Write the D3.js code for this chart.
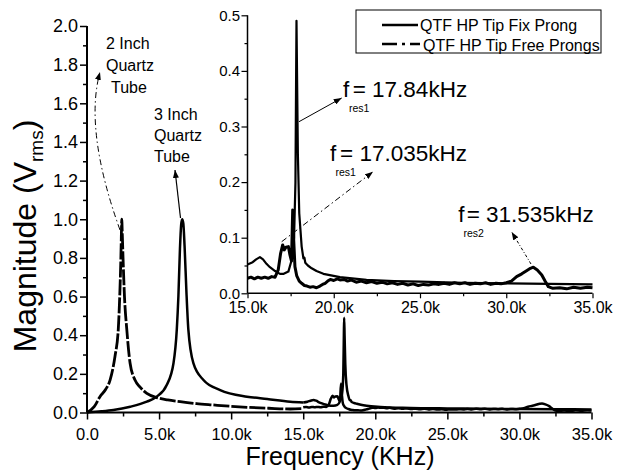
<!DOCTYPE html>
<html><head><meta charset="utf-8">
<script src="https://cdn.jsdelivr.net/npm/d3@7"></script>
<style>
body{margin:0;background:#fff}
svg{display:block}
text{font-family:"Liberation Sans",Arial,sans-serif;fill:#000}
</style>
</head><body><svg id="c" width="626" height="476"></svg>
<script>
// ---------- data (frequency in kHz, magnitude in Vrms) ----------
const tube2Freq = [0,0.5,0.9,1.3,1.6,1.94,2.17,2.27,2.34,2.38,2.41,2.45,2.5,2.6,2.76,2.99,3.33,3.7,4.15,4.84,5.6,6.46,7.6,8.77,10.0,11.1,12.6,14.1,15.0];
const tube2Mag  = [0,0.03,0.082,0.12,0.168,0.29,0.43,0.6,0.77,0.9,1.0,0.92,0.8,0.6,0.43,0.255,0.168,0.13,0.099,0.077,0.065,0.056,0.046,0.039,0.032,0.027,0.022,0.018,0.02];

const tube3Freq = [0,1.0,1.83,3.0,4.15,4.84,5.53,6.0,6.23,6.34,6.45,6.53,6.6,6.68,6.77,6.9,7.03,7.38,8.08,9.24,11.1,12.5,14.1,15.0];
const tube3Mag  = [0,0.006,0.013,0.03,0.056,0.082,0.142,0.255,0.43,0.6,0.85,0.97,1.0,0.98,0.86,0.62,0.43,0.255,0.168,0.116,0.082,0.07,0.056,0.052];

const fixFreq = [15.0,15.3,15.5,15.72,15.9,16.1,16.3,16.6,16.88,17.1,17.37,17.56,17.7,17.78,17.82,17.84,17.87,17.92,18.0,18.14,18.24,18.3,18.35,18.5,18.72,19.0,19.4,20.36,21.9,23.5,25.0,27.5,30.0,32.5,35.0];
const fixMag  = [0.052,0.056,0.061,0.065,0.061,0.053,0.047,0.040,0.035,0.035,0.039,0.060,0.100,0.200,0.400,0.490,0.400,0.250,0.144,0.084,0.063,0.064,0.055,0.050,0.045,0.040,0.035,0.029,0.024,0.022,0.021,0.019,0.018,0.017,0.016];

const freeFreq = [15.0,15.2,15.4,15.6,15.8,16.0,16.2,16.4,16.6,16.78,16.92,17.04,17.13,17.23,17.37,17.46,17.55,17.62,17.68,17.75,17.85,18.0,18.14,18.3,18.45,18.62,18.8,19.0,19.2,19.35,19.5,19.65,19.8,20.0,20.2,20.36,20.6,20.8,21.0,21.3,21.6,21.9,22.2,22.5,22.8,23.1,23.4,23.7,24.0,24.3,24.6,24.9,25.2,25.5,25.8,26.1,26.4,26.7,27.0,27.3,27.6,27.9,28.2,28.5,28.8,29.1,29.4,29.7,30.0,30.3,30.6,30.9,31.2,31.4,31.57,31.8,32.06,32.25,32.44,32.7,33.1,33.5,33.9,34.3,34.7,35.0];
const freeMag  = [0.027,0.029,0.026,0.029,0.027,0.029,0.027,0.030,0.029,0.042,0.072,0.087,0.078,0.083,0.084,0.069,0.058,0.150,0.095,0.048,0.032,0.022,0.018,0.014,0.013,0.011,0.012,0.010,0.013,0.016,0.018,0.022,0.025,0.023,0.026,0.024,0.025,0.022,0.024,0.020,0.022,0.019,0.021,0.018,0.020,0.017,0.019,0.016,0.018,0.015,0.017,0.014,0.016,0.015,0.017,0.016,0.018,0.016,0.019,0.017,0.019,0.016,0.018,0.017,0.019,0.016,0.018,0.017,0.019,0.022,0.030,0.035,0.041,0.045,0.047,0.042,0.033,0.022,0.012,0.009,0.010,0.008,0.011,0.009,0.011,0.010];

const mainYTicks = [0,0.2,0.4,0.6,0.8,1.0,1.2,1.4,1.6,1.8,2.0];
const mainXTicks = [0,5,10,15,20,25,30,35];
const insetYTicks = [0,0.1,0.2,0.3,0.4,0.5];
const insetXTicks = [15,20,25,30,35];
const legendLabels = ["QTF HP Tip Fix Prong","QTF HP Tip Free Prongs"];

// ---------- setup ----------
const svg = d3.select("#c");
const defs = svg.append("defs");
defs.append("marker").attr("id","ah").attr("viewBox","0 0 8 6")
  .attr("refX",8).attr("refY",3).attr("markerWidth",8).attr("markerHeight",6)
  .attr("markerUnits","userSpaceOnUse").attr("orient","auto")
  .append("path").attr("d","M0,0L8,3L0,6Z").attr("fill","#000");

const fmtK = d => d===0 ? "0.0" : d3.format(".1f")(d)+"k";
const zip = (a,b) => a.map((v,i)=>[v,b[i]]);

function addAxis(g, axis, minorAxis, fontSize){
  const a = g.append("g").call(axis);
  a.selectAll("text").attr("font-size",fontSize).attr("font-family","Liberation Sans, Arial, sans-serif");
  a.selectAll("line").attr("stroke","#000");
  a.select(".domain").remove();
  const m = g.append("g").call(minorAxis);
  m.select(".domain").remove();
  m.selectAll("line").attr("stroke","#000");
  return a;
}

// ---------- main chart ----------
const x = d3.scaleLinear().domain([0,35]).range([87,591.5]);
const y = d3.scaleLinear().domain([0,2]).range([412.5,26]);

const gy = svg.append("g").attr("transform",`translate(${x(0)},0)`);
addAxis(gy,
  d3.axisLeft(y).tickValues(mainYTicks).tickSize(7).tickPadding(2).tickFormat(d3.format(".1f")),
  d3.axisLeft(y).tickValues(d3.range(0.1,2,0.2)).tickSize(4).tickFormat(""), 18);
gy.selectAll("line").attr("stroke-width",1.5);
gy.append("line").attr("x1",0).attr("x2",0).attr("y1",y(0)).attr("y2",y(2)).attr("stroke","#000").attr("stroke-width",2);

const gx = svg.append("g").attr("transform",`translate(0,${y(0)})`);
addAxis(gx,
  d3.axisBottom(x).tickValues(mainXTicks).tickSize(7).tickPadding(9).tickFormat(fmtK),
  d3.axisBottom(x).tickValues(d3.range(2.5,35,5)).tickSize(4).tickFormat(""), 16.5);
gx.selectAll("line").attr("stroke-width",1.5);
gx.append("line").attr("x1",x(0)).attr("x2",x(35)).attr("y1",0).attr("y2",0).attr("stroke","#000").attr("stroke-width",2);

const lineMain = d3.line().x(d=>x(d[0])).y(d=>y(d[1])).curve(d3.curveMonotoneX);
const plotMain = svg.append("g");
plotMain.append("path").attr("d",lineMain(zip(tube3Freq,tube3Mag))).attr("fill","none").attr("stroke","#000").attr("stroke-width",2.5);
plotMain.append("path").attr("d",lineMain(zip(tube2Freq,tube2Mag))).attr("fill","none").attr("stroke","#000").attr("stroke-width",2.8).attr("stroke-dasharray","16,2");
plotMain.append("path").attr("d",lineMain(zip(fixFreq,fixMag))).attr("fill","none").attr("stroke","#000").attr("stroke-width",2.5);
plotMain.append("path").attr("d",lineMain(zip(freeFreq,freeMag))).attr("fill","none").attr("stroke","#000").attr("stroke-width",2.5);

// axis titles
svg.append("text").attr("x",340).attr("y",465).attr("text-anchor","middle").attr("font-size",25).text("Frequency (KHz)");
const yt = svg.append("text").attr("transform","translate(36,236) rotate(-90)").attr("text-anchor","middle").attr("font-size",32);
yt.append("tspan").text("Magnitude (V");
yt.append("tspan").attr("font-size",19).attr("dy",7).text("rms");
yt.append("tspan").attr("dy",-7).text(")");

// tube annotations
const ann = svg.append("g").attr("font-size",16);
[["2 Inch",106,49],["Quartz",106,71],["Tube",111,93],["3 Inch",154,120],["Quartz",154,141],["Tube",154,162]]
  .forEach(t=>ann.append("text").attr("x",t[1]).attr("y",t[2]).attr("font-size",16).text(t[0]));
svg.append("path").attr("d","M120,230 Q84,130 100,72").attr("fill","none").attr("stroke","#000").attr("stroke-width",1)
  .attr("stroke-dasharray","6,3,1.5,3").attr("marker-end","url(#ah)");
svg.append("path").attr("d","M180.5,218 L175,170").attr("fill","none").attr("stroke","#000").attr("stroke-width",1.2).attr("marker-end","url(#ah)");

// ---------- inset ----------
const xi = d3.scaleLinear().domain([15,35]).range([247.5,592.5]);
const yi = d3.scaleLinear().domain([0,0.5]).range([293.3,15.3]);

const giy = svg.append("g").attr("transform",`translate(${xi(15)},0)`);
addAxis(giy,
  d3.axisLeft(yi).tickValues(insetYTicks).tickSize(6).tickPadding(1.5).tickFormat(d3.format(".1f")),
  d3.axisLeft(yi).tickValues(d3.range(0.05,0.5,0.1)).tickSize(3).tickFormat(""), 15);
giy.selectAll("line").attr("stroke-width",1.2);
giy.append("line").attr("x1",0).attr("x2",0).attr("y1",yi(0)).attr("y2",yi(0.5)).attr("stroke","#000").attr("stroke-width",1.5);

const gix = svg.append("g").attr("transform",`translate(0,${yi(0)})`);
addAxis(gix,
  d3.axisBottom(xi).tickValues(insetXTicks).tickSize(5).tickPadding(3.5).tickFormat(fmtK),
  d3.axisBottom(xi).tickValues(d3.range(17.5,35,5)).tickSize(3).tickFormat(""), 16);
gix.selectAll("line").attr("stroke-width",1.2);
gix.append("line").attr("x1",xi(15)).attr("x2",xi(35)).attr("y1",0).attr("y2",0).attr("stroke","#000").attr("stroke-width",1.5);

const lineIn = d3.line().x(d=>xi(d[0])).y(d=>yi(d[1]));
svg.append("path").attr("d",lineIn(zip(fixFreq,fixMag))).attr("fill","none").attr("stroke","#000").attr("stroke-width",2.2).attr("stroke-linejoin","round");
svg.append("path").attr("d",lineIn(zip(freeFreq,freeMag))).attr("fill","none").attr("stroke","#000").attr("stroke-width",3).attr("stroke-linejoin","round");

// inset annotations (subscript set just below the main line)
function fres(xf, yb, sub, xs, xe, txt){
  const g = svg.append("g");
  g.append("text").attr("x",xf).attr("y",yb).attr("font-size",22.5).text("f");
  g.append("text").attr("x",xs).attr("y",yb+15).attr("font-size",10.5).text(sub);
  g.append("text").attr("x",xe).attr("y",yb).attr("font-size",22.5).text(txt);
}
fres(343,97,"res1",349,352.7,"= 17.84kHz");
fres(330,160.7,"res1",335.5,340,"= 17.035kHz");
fres(458.3,221.7,"res2",463.5,466.7,"= 31.535kHz");
svg.append("path").attr("d","M299,121.7L341.7,98").attr("stroke","#000").attr("stroke-width",1).attr("marker-end","url(#ah)");
svg.append("path").attr("d","M281.7,241.7L373,171.7").attr("stroke","#000").attr("stroke-width",1).attr("stroke-dasharray","6,3,1.5,3").attr("marker-end","url(#ah)");
svg.append("path").attr("d","M531,264L511.7,232").attr("stroke","#000").attr("stroke-width",1).attr("stroke-dasharray","3,2,1,2").attr("marker-end","url(#ah)");

// ---------- legend ----------
const lg = svg.append("g");
lg.append("rect").attr("x",356).attr("y",10).attr("width",245).attr("height",43).attr("fill","#fff").attr("stroke","#000").attr("stroke-width",1);
lg.append("line").attr("x1",382).attr("x2",418).attr("y1",25).attr("y2",25).attr("stroke","#000").attr("stroke-width",2.5);
lg.append("line").attr("x1",382).attr("x2",420).attr("y1",44).attr("y2",44).attr("stroke","#000").attr("stroke-width",2.5).attr("stroke-dasharray","15,5,3,5");
lg.append("text").attr("x",420).attr("y",31).attr("font-size",16).text(legendLabels[0]);
lg.append("text").attr("x",423).attr("y",50.5).attr("font-size",16).text(legendLabels[1]);
</script>
</body></html>
